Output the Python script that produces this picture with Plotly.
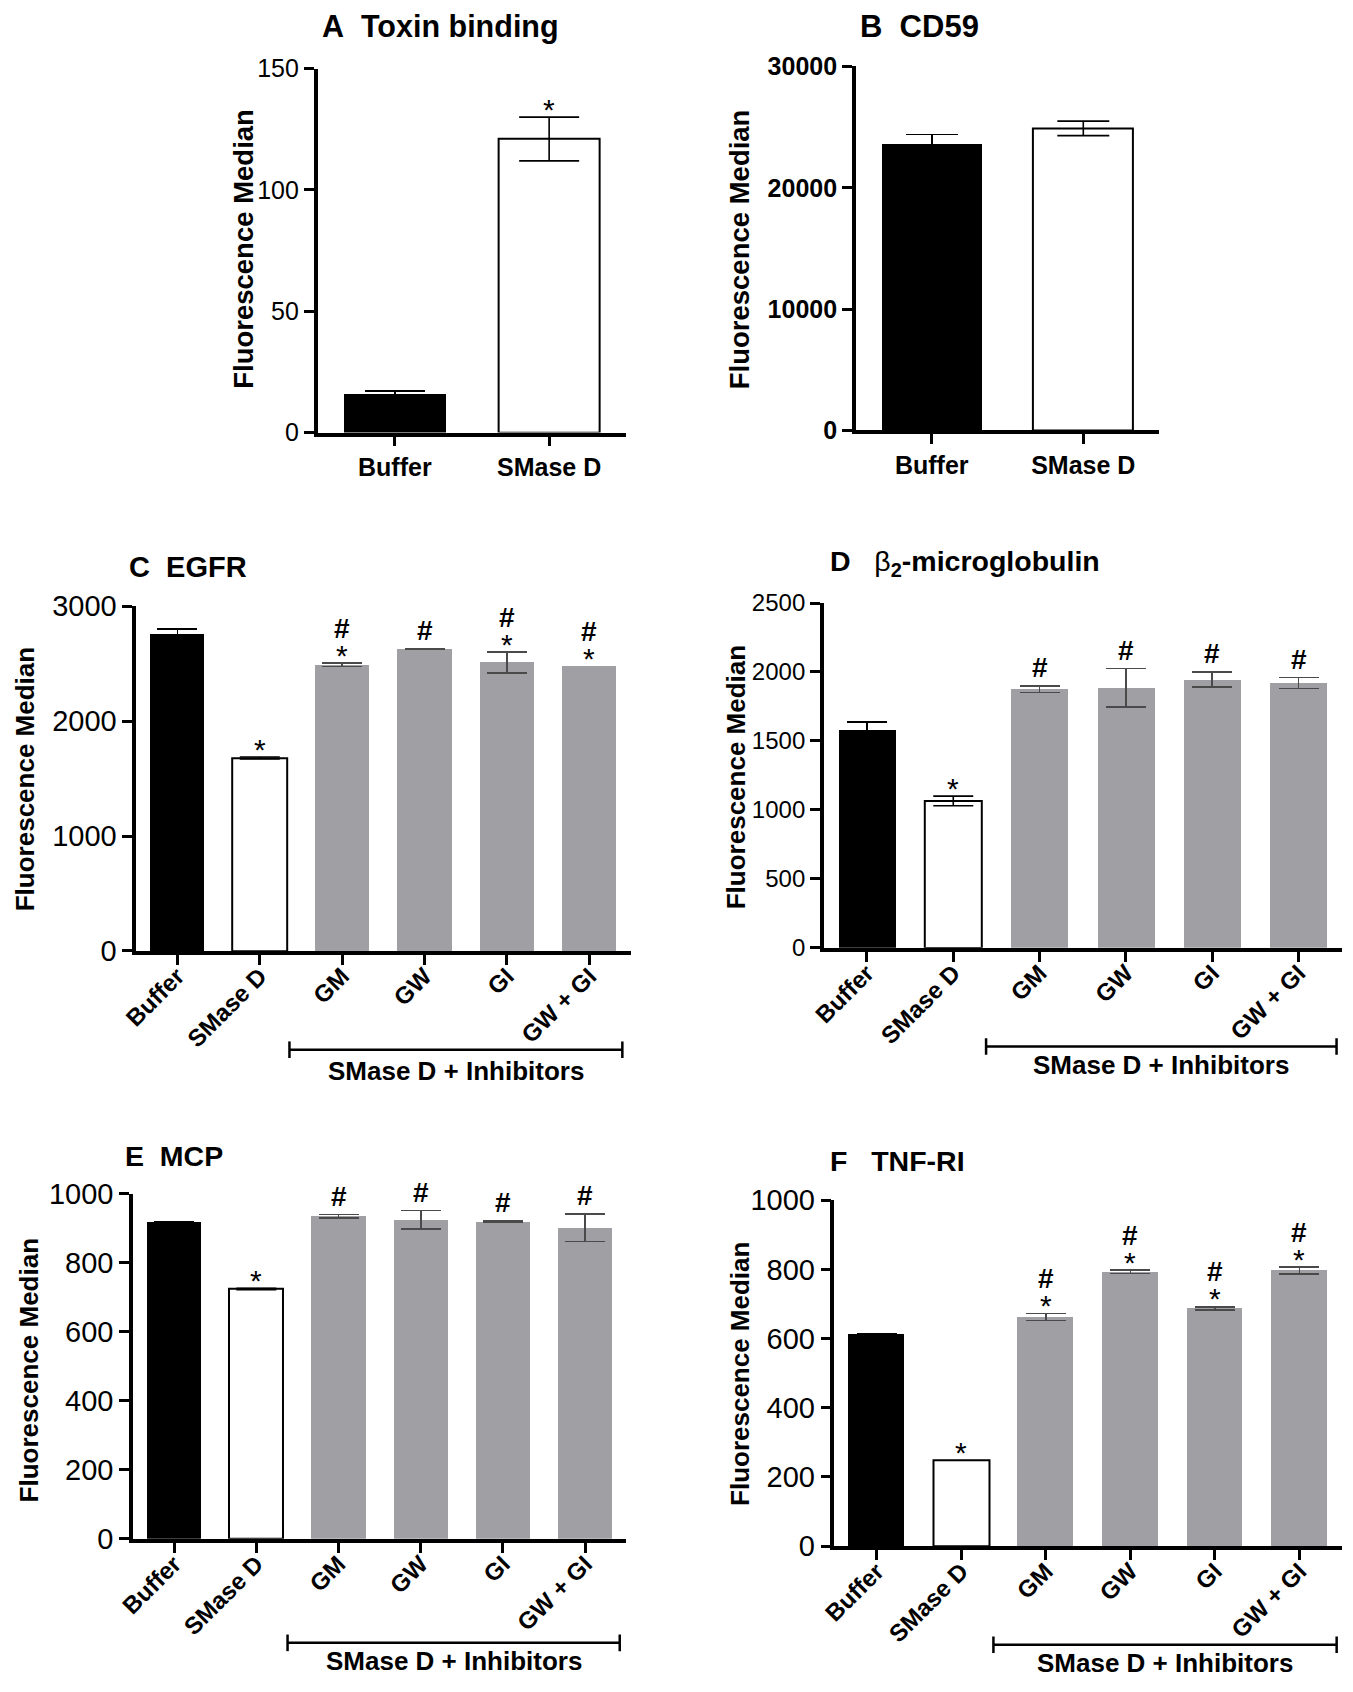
import plotly.graph_objects as go

FONT = "Liberation Sans, Arial, sans-serif"
BLACK = "#000000"
GRAY = "#a09fa4"

cats2 = ["Buffer", "SMase D"]
cats6 = ["Buffer", "SMase D", "GM", "GW", "GI", "GW + GI"]

# A  Toxin binding
a_vals = [16, 121]
a_err = [1.2, 9]
a_star = [False, True]
a_hash = [False, False]

# B  CD59
b_vals = [23600, 24900]
b_err = [800, 600]
b_star = [False, False]
b_hash = [False, False]

# C  EGFR
c_vals = [2760, 1680, 2490, 2630, 2510, 2480]
c_err = [40, 8, 15, 4, 90, 0]
c_star = [False, True, True, False, True, True]
c_hash = [False, False, True, True, True, True]

# D  beta2-microglobulin
d_vals = [1580, 1065, 1875, 1885, 1945, 1920]
d_err = [55, 35, 25, 140, 55, 40]
d_star = [False, True, False, False, False, False]
d_hash = [False, False, True, True, True, True]

# E  MCP
e_vals = [918, 724, 935, 925, 920, 902]
e_err = [2, 2, 5, 27, 2, 40]
e_star = [False, True, False, False, False, False]
e_hash = [False, False, True, True, True, True]

# F  TNF-RI
f_vals = [612, 248, 662, 793, 687, 797]
f_err = [3, 0, 10, 5, 5, 10]
f_star = [False, True, True, True, True, True]
f_hash = [False, False, True, True, True, True]

fig = go.Figure()

panels = [
    dict(n=1, title="<b>A\u00a0\u00a0Toxin binding</b>", cats=cats2, vals=a_vals, err=a_err, star=a_star, hsh=a_hash,
         xd=[0.2202, 0.4509], yd=[0.7539, 0.9731], top=150, dt=50, cap=30, tb=False, tfs=25,
         tsz=30.5, tp=(0.2218, 0.9987), ysz=27.5, yt=(0.1652, 0.8646), br=None),
    dict(n=2, title="<b>B\u00a0\u00a0CD59</b>", cats=cats2, vals=b_vals, err=b_err, star=b_star, hsh=b_hash,
         xd=[0.6225, 0.8491], yd=[0.7552, 0.9744], top=30000, dt=10000, cap=26, tb=True, tfs=25,
         tsz=31, tp=(0.6241, 0.9987), ysz=27.5, yt=(0.5355, 0.8646), br=None),
    dict(n=3, title="<b>C\u00a0\u00a0EGFR</b>", cats=cats6, vals=c_vals, err=c_err, star=c_star, hsh=c_hash,
         xd=[0.0846, 0.4541], yd=[0.4416, 0.6492], top=3000, dt=1000, cap=20, tb=False, tfs=29,
         tsz=29, tp=(0.0774, 0.6728), ysz=26, yt=(0.0016, 0.5451), br=(1.36, 5.40, 0.3821, 0.3693)),
    dict(n=4, title="<b>D</b>\u00a0\u00a0\u00a0\u03b2<b><sub>2</sub>-microglobulin</b>", cats=cats6, vals=d_vals,
         err=d_err, star=d_star, hsh=d_hash,
         xd=[0.5985, 0.9856], yd=[0.4435, 0.6512], top=2500, dt=500, cap=20, tb=False, tfs=24,
         tsz=28.5, tp=(0.6017, 0.6754), ysz=26, yt=(0.5331, 0.5464), br=(1.38, 5.44, 0.3840, 0.3731)),
    dict(n=5, title="<b>E\u00a0\u00a0MCP</b>", cats=cats6, vals=e_vals, err=e_err, star=e_star, hsh=e_hash,
         xd=[0.0822, 0.4509], yd=[0.0875, 0.2953], top=1000, dt=200, cap=20, tb=False, tfs=29,
         tsz=28.5, tp=(0.0750, 0.3182), ysz=26, yt=(0.0047, 0.1891), br=(1.38, 5.42, 0.0248, 0.0141)),
    dict(n=6, title="<b>F\u00a0\u00a0\u00a0TNF-RI</b>", cats=cats6, vals=f_vals, err=f_err, star=f_star, hsh=f_hash,
         xd=[0.6065, 0.9856], yd=[0.0831, 0.2914], top=1000, dt=200, cap=20, tb=False, tfs=29,
         tsz=28.5, tp=(0.6017, 0.3150), ysz=26, yt=(0.5363, 0.1865), br=(1.38, 5.44, 0.0236, 0.0128)),
]

annotations = []
shapes = []

for p in panels:
    n = p["n"]
    xa = "x" if n == 1 else f"x{n}"
    ya = "y" if n == 1 else f"y{n}"
    for i, (c, v, e) in enumerate(zip(p["cats"], p["vals"], p["err"])):
        if i == 0:
            fill, line, ecol = BLACK, BLACK, BLACK
        elif i == 1:
            fill, line, ecol = "white", BLACK, BLACK
        else:
            fill, line, ecol = GRAY, GRAY, "#4a4a4a"
        fig.add_trace(go.Bar(
            x=[c], y=[v], xaxis=xa, yaxis=ya, width=0.66,
            marker=dict(color=fill, line=dict(color=line, width=2 if i == 1 else 0)),
            error_y=dict(type="data", array=[e], visible=e > 0, color=ecol,
                         thickness=1.6, width=p["cap"]),
            showlegend=False, hoverinfo="y",
        ))
        top_val = v + e
        if p["star"][i]:
            annotations.append(dict(x=c, y=top_val, xref=xa, yref=ya, text="*", showarrow=False,
                                    yanchor="middle", yshift=8,
                                    font=dict(family=FONT, size=30, color=BLACK)))
        if p["hsh"][i]:
            annotations.append(dict(x=c, y=top_val, xref=xa, yref=ya, text="<b>#</b>", showarrow=False,
                                    yanchor="middle", yshift=35 if p["star"][i] else 18,
                                    font=dict(family=FONT, size=28, color=BLACK)))

    six = len(p["cats"]) == 6
    fig.update_layout({
        ("xaxis" if n == 1 else f"xaxis{n}"): dict(
            domain=p["xd"], anchor=ya, range=[-0.5, len(p["cats"]) - 0.5],
            type="category", showline=True, linewidth=3.5, linecolor=BLACK,
            ticks="outside", ticklen=10, tickwidth=2.5, tickcolor=BLACK,
            tickangle=-45 if six else 0, showgrid=False, zeroline=False,
            ticklabelstandoff=-12 if six else 0,
            tickfont=dict(family=FONT, size=24 if six else 25, color=BLACK),
            tickvals=p["cats"], ticktext=[f"<b>{c}</b>" for c in p["cats"]],
        ),
        ("yaxis" if n == 1 else f"yaxis{n}"): dict(
            domain=p["yd"], anchor=xa, range=[0, p["top"]],
            tick0=0, dtick=p["dt"], showline=True, linewidth=3.5, linecolor=BLACK,
            ticks="outside", ticklen=10, tickwidth=2.5, tickcolor=BLACK,
            showgrid=False, zeroline=False,
            tickfont=dict(family=FONT, size=p["tfs"], color=BLACK),
            tickformat="d",
            tickprefix="<b>" if p["tb"] else "", ticksuffix="</b>" if p["tb"] else "",
        ),
    })

    annotations.append(dict(x=p["tp"][0], y=p["tp"][1], xref="paper", yref="paper",
                            text=p["title"], showarrow=False,
                            xanchor="left", yanchor="middle",
                            font=dict(family=FONT, size=p["tsz"], color=BLACK)))
    annotations.append(dict(x=p["yt"][0], y=p["yt"][1], xref="paper", yref="paper",
                            text="<b>Fluorescence Median</b>", showarrow=False, textangle=-90,
                            xanchor="center", yanchor="middle",
                            font=dict(family=FONT, size=p["ysz"], color=BLACK)))
    if p["br"]:
        x0, x1, yb, yl = p["br"]
        shapes.append(dict(type="line", xref=xa, yref="paper", x0=x0, x1=x1, y0=yb, y1=yb,
                           line=dict(color=BLACK, width=2.5)))
        for xe in (x0, x1):
            shapes.append(dict(type="line", xref=xa, yref="paper", x0=xe, x1=xe,
                               y0=yb - 0.005, y1=yb + 0.005, line=dict(color=BLACK, width=2.5)))
        annotations.append(dict(x=(x0 + x1) / 2, y=yl, xref=xa, yref="paper",
                                text="<b>SMase D + Inhibitors</b>", showarrow=False,
                                xanchor="center", yanchor="middle",
                                font=dict(family=FONT, size=26, color=BLACK)))

fig.update_layout(
    width=1353, height=1692,
    margin=dict(l=0, r=0, t=0, b=0),
    paper_bgcolor="white", plot_bgcolor="white",
    barmode="overlay", bargap=0,
    annotations=annotations, shapes=shapes,
    font=dict(family=FONT, color=BLACK),
)

fig.write_html("out.html")
